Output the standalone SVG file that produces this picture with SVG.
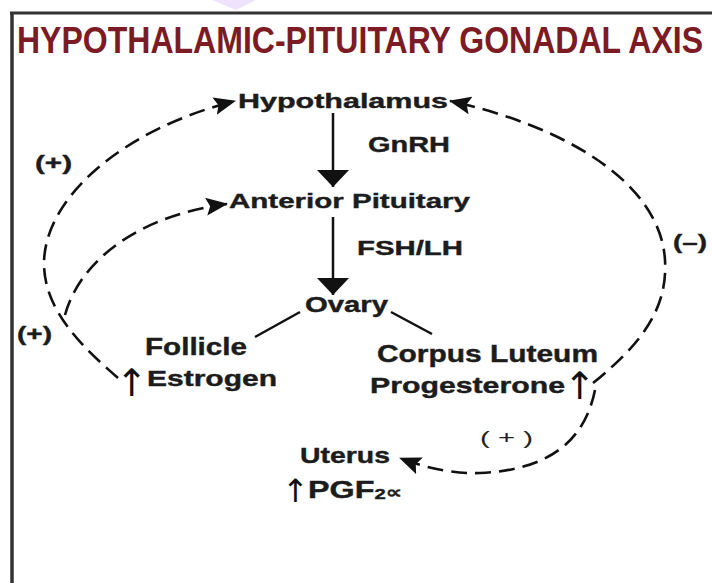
<svg xmlns="http://www.w3.org/2000/svg" width="712" height="583" viewBox="0 0 712 583">
<defs>
<style>
.t{font-family:"Liberation Sans",Arial,sans-serif;font-weight:bold;fill:#1c1c1c;stroke:#1c1c1c;stroke-width:0.4}
.title{font-family:"Liberation Sans",Arial,sans-serif;font-weight:bold;fill:#7d1b24;font-size:31.5px}
.solid{stroke:#111;stroke-width:2.5;fill:none}
.dash{stroke:#111;stroke-width:2.6;fill:none;stroke-dasharray:16 8}
.up{font-family:"DejaVu Sans",sans-serif;fill:#111}
</style>
<marker id="ah" viewBox="0 0 22 18" refX="21" refY="9" markerWidth="22" markerHeight="18" markerUnits="userSpaceOnUse" orient="auto">
<path d="M0,0 L22,9 L0,18 L4,9 Z" fill="#111"/>
</marker>
<marker id="dn" viewBox="0 0 32 17" refX="16" refY="17" markerWidth="32" markerHeight="17" markerUnits="userSpaceOnUse" orient="0">
<path d="M0,0 L32,0 L16,17 Z" fill="#111"/>
</marker>
</defs>
<rect width="712" height="583" fill="#fff"/>
<polygon points="212,0 256,0 236,10" fill="#efe3fb"/>
<g id="frame">
<line x1="10" y1="13" x2="712" y2="13" stroke="#333" stroke-width="3"/>
<line x1="12" y1="12" x2="12" y2="583" stroke="#333" stroke-width="3.5"/>
</g>
<text class="title" transform="translate(17,53) scale(1,1.2)" x="0" y="0" textLength="686" lengthAdjust="spacingAndGlyphs">HYPOTHALAMIC-PITUITARY GONADAL AXIS</text>
<g id="connectors">
<line class="solid" x1="333" y1="113" x2="333" y2="187" marker-end="url(#dn)"/>
<line class="solid" x1="333" y1="217" x2="333" y2="295" marker-end="url(#dn)"/>
<line class="solid" x1="300" y1="312" x2="255" y2="337" stroke-width="2"/>
<line class="solid" x1="391" y1="312" x2="432" y2="334" stroke-width="2"/>
<path class="dash" d="M118,378 C80,345 45,310 44,265 C43,200 120,130 235,101" marker-end="url(#ah)"/>
<path class="dash" d="M65,315 C80,260 140,215 227,204" marker-end="url(#ah)"/>
<path class="dash" d="M593,383 C640,345 668,310 665,260 C660,180 560,125 450,101" marker-end="url(#ah)"/>
<path class="dash" d="M595,390 C585,440 550,470 480,473 C460,474 430,470 400,458" marker-end="url(#ah)"/>
</g>
<g id="hypothalamus"><text class="t" x="238" y="108" font-size="21" textLength="210" lengthAdjust="spacingAndGlyphs">Hypothalamus</text></g>
<g id="gnrh"><text class="t" x="368" y="152" font-size="22" textLength="82" lengthAdjust="spacingAndGlyphs">GnRH</text></g>
<g id="anterior-pituitary"><text class="t" x="229" y="208" font-size="21" textLength="241" lengthAdjust="spacingAndGlyphs">Anterior Pituitary</text></g>
<g id="fsh-lh"><text class="t" x="357" y="255" font-size="21" textLength="106" lengthAdjust="spacingAndGlyphs">FSH/LH</text></g>
<g id="ovary"><text class="t" x="305" y="312" font-size="22" textLength="83" lengthAdjust="spacingAndGlyphs">Ovary</text></g>
<g id="follicle">
<text class="t" x="145" y="355" font-size="23" textLength="102" lengthAdjust="spacingAndGlyphs">Follicle</text>
<text class="up" x="116" y="396" font-size="38">↑</text>
<text class="t" x="147" y="386" font-size="22" textLength="130" lengthAdjust="spacingAndGlyphs">Estrogen</text>
</g>
<g id="corpus-luteum">
<text class="t" x="377" y="362" font-size="23" textLength="221" lengthAdjust="spacingAndGlyphs">Corpus Luteum</text>
<text class="t" x="370" y="393" font-size="22" textLength="195" lengthAdjust="spacingAndGlyphs">Progesterone</text>
<text class="up" x="564" y="399" font-size="38">↑</text>
</g>
<g id="uterus">
<text class="t" x="300" y="463" font-size="22" textLength="90" lengthAdjust="spacingAndGlyphs">Uterus</text>
<text class="up" x="282" y="502" font-size="32">↑</text>
<text class="t" x="308" y="498" font-size="24" textLength="94" lengthAdjust="spacingAndGlyphs">PGF<tspan font-size="15" dy="1">2</tspan><tspan font-size="17" font-family="DejaVu Sans" dy="-1">∝</tspan></text>
</g>
<g id="labels">
<text class="t" x="35" y="170" font-size="20" textLength="37" lengthAdjust="spacingAndGlyphs">(+)</text>
<text class="t" x="17" y="341" font-size="20" textLength="35" lengthAdjust="spacingAndGlyphs">(+)</text>
<text class="t" x="673" y="249" font-size="20" textLength="34" lengthAdjust="spacingAndGlyphs">(–)</text>
<text x="480" y="444" font-family="'Liberation Sans',Arial,sans-serif" font-size="19" fill="#222" textLength="53" lengthAdjust="spacingAndGlyphs">( + )</text>
</g>
</svg>
